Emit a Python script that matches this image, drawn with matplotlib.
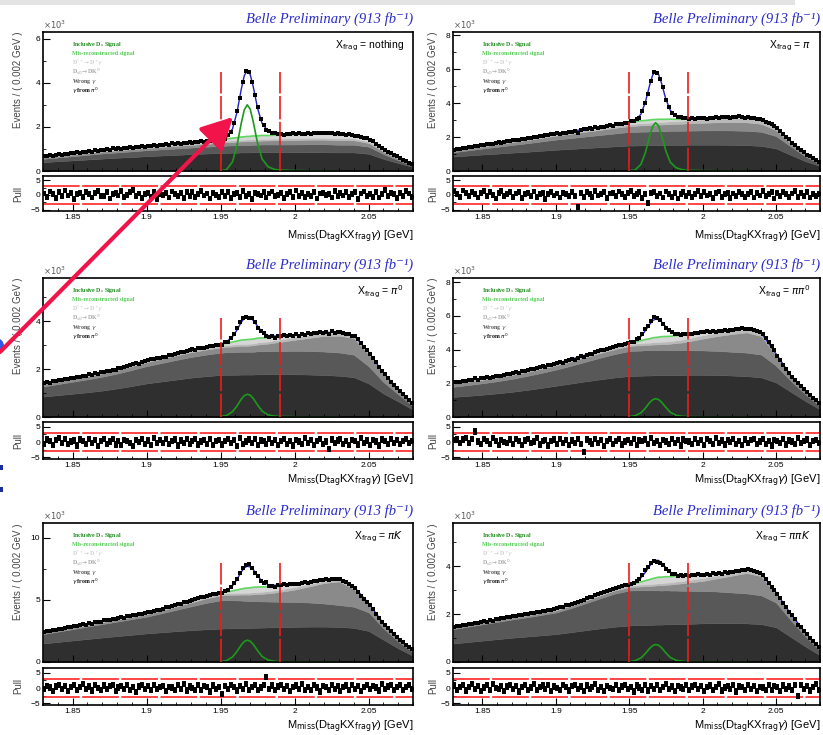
import numpy as np
import matplotlib
matplotlib.use("Agg")
import matplotlib.pyplot as plt
from matplotlib.ticker import MultipleLocator, FormatStrFormatter
from matplotlib.patches import FancyArrowPatch, Ellipse, Rectangle

plt.rcParams['font.family'] = ['Liberation Sans', 'DejaVu Sans']

W, H = 823, 735

# Sampling points of the fitted PDF components (GeV)
GRID = [1.83, 1.84, 1.85, 1.86, 1.87, 1.88, 1.89, 1.90, 1.91, 1.92, 1.93, 1.94, 1.95,
        1.954, 1.958, 1.961, 1.964, 1.966, 1.968, 1.970, 1.972, 1.975, 1.978, 1.982, 1.986,
        1.99, 2.00, 2.01, 2.02, 2.03, 2.04, 2.05, 2.06, 2.07, 2.08]
# Data histogram: 125 bins of 0.002 GeV between 1.83 and 2.08
BINS = [round(1.831 + 0.002 * i, 3) for i in range(125)]

# ---------------- X_frag = nothing (units of 10^3 events) ----------------
nothing_gpi0 = [0.40, 0.44, 0.48, 0.52, 0.56, 0.60, 0.63, 0.67, 0.70, 0.73, 0.76, 0.79, 0.81,
                0.82, 0.83, 0.83, 0.84, 0.84, 0.84, 0.84, 0.85, 0.85, 0.85, 0.85, 0.85,
                0.85, 0.85, 0.85, 0.85, 0.84, 0.84, 0.78, 0.55, 0.36, 0.18]
nothing_wrong = [0.15, 0.17, 0.19, 0.21, 0.23, 0.24, 0.26, 0.27, 0.28, 0.29, 0.30, 0.31, 0.32,
                 0.33, 0.33, 0.33, 0.34, 0.34, 0.34, 0.34, 0.34, 0.34, 0.35, 0.35, 0.35,
                 0.35, 0.35, 0.36, 0.36, 0.35, 0.35, 0.32, 0.22, 0.13, 0.06]
nothing_ds0 = [0.07, 0.07, 0.08, 0.08, 0.09, 0.09, 0.10, 0.10, 0.11, 0.12, 0.12, 0.13, 0.14,
               0.15, 0.15, 0.16, 0.16, 0.16, 0.17, 0.17, 0.17, 0.17, 0.18, 0.18, 0.19,
               0.19, 0.20, 0.21, 0.21, 0.20, 0.20, 0.17, 0.11, 0.07, 0.03]
nothing_dstar = [0.03, 0.03, 0.03, 0.04, 0.04, 0.04, 0.05, 0.05, 0.05, 0.06, 0.06, 0.07, 0.07,
                 0.07, 0.08, 0.08, 0.08, 0.08, 0.08, 0.08, 0.08, 0.08, 0.08, 0.08, 0.08,
                 0.08, 0.09, 0.09, 0.09, 0.09, 0.09, 0.07, 0.05, 0.03, 0.01]
nothing_misreco = [0.02, 0.02, 0.02, 0.02, 0.03, 0.03, 0.03, 0.03, 0.04, 0.04, 0.04, 0.05, 0.06,
                   0.08, 0.10, 0.11, 0.12, 0.13, 0.14, 0.14, 0.15, 0.15, 0.15, 0.15, 0.15,
                   0.15, 0.16, 0.17, 0.18, 0.17, 0.14, 0.11, 0.07, 0.04, 0.02]
nothing_signal = [0, 0, 0, 0, 0, 0, 0, 0, 0, 0, 0, 0, 0.01,
                  0.06, 0.41, 1.13, 2.18, 2.77, 3.00, 2.80, 2.25, 1.25, 0.55, 0.20, 0.08,
                  0.04, 0.02, 0.01, 0, 0, 0, 0, 0, 0, 0]
nothing_data = [
    0.69, 0.67, 0.72, 0.70, 0.73, 0.75, 0.73, 0.78, 0.76, 0.80, 0.80, 0.84, 0.83, 0.87, 0.85, 0.90, 0.88, 0.93, 0.91, 0.96,
    0.94, 0.99, 0.97, 1.02, 0.98, 1.03, 1.00, 1.06, 1.04, 1.08, 1.06, 1.11, 1.09, 1.13, 1.10, 1.15, 1.12, 1.17, 1.14, 1.19,
    1.18, 1.22, 1.20, 1.25, 1.21, 1.26, 1.23, 1.28, 1.25, 1.30, 1.27, 1.32, 1.30, 1.35, 1.33, 1.37, 1.35, 1.40, 1.38, 1.42,
    1.45, 1.47, 1.63, 1.78, 2.18, 2.70, 3.30, 4.05, 4.55, 4.50, 4.05, 3.45, 2.90, 2.35, 2.10, 1.88, 1.80, 1.70, 1.71, 1.66,
    1.68, 1.65, 1.69, 1.66, 1.70, 1.67, 1.71, 1.68, 1.66, 1.70, 1.69, 1.72, 1.70, 1.74, 1.71, 1.73, 1.70, 1.72, 1.68, 1.71,
    1.66, 1.69, 1.65, 1.67, 1.63, 1.60, 1.58, 1.55, 1.51, 1.48, 1.42, 1.34, 1.24, 1.14, 1.05, 0.96, 0.88, 0.80, 0.72, 0.66,
    0.60, 0.52, 0.45, 0.38, 0.32]
nothing_pull = [
    0.5, -0.8, 1.2, 0.3, -1.1, 0.9, -0.4, 1.5, -0.2, 0.6, -1.3, 0.2, 0.8, -0.6, 1.1, 0.4, -0.9, 0.7, 1.4, -0.3,
    -0.5, 1.0, -1.2, 0.3, 0.6, -0.2, 1.3, -0.7, 0.1, 0.9, 1.6, -0.4, 0.5, -1.0, 0.2, 0.8, -0.6, 1.1, -1.4, 0.4,
    -0.1, 0.7, -0.9, 1.2, 0.3, -0.5, 0.6, -1.1, 0.9, -0.3, 1.0, -0.8, 0.4, 1.3, -0.2, 0.5, -1.2, 0.8, 0.1, -0.6,
    0.9, -0.4, 1.1, -1.0, 0.3, 0.6, -0.7, 1.4, -0.5, 0.2, -1.3, 0.8, 0.4, -0.2, 1.0, -0.9, 0.5, 1.2, -0.4, 0.1,
    0.7, -1.1, 0.3, 0.9, -0.6, 1.5, -0.3, 0.6, -0.8, 0.2, -0.4, 1.1, -1.2, 0.5, 0.8, -0.1, 0.4, -0.9, 1.3, -0.5,
    0.6, -0.2, 1.0, -0.7, 0.3, 0.9, -1.4, 0.5, 1.2, -0.3, 0.2, -0.6, 1.1, -0.9, 0.4, 1.6, -0.5, 0.8, 0.2, -1.0,
    0.7, -0.3, 1.3, 0.5, -0.8]

# ---------------- X_frag = pi ----------------
pi_gpi0 = [0.85, 0.91, 0.97, 1.02, 1.08, 1.13, 1.19, 1.25, 1.30, 1.35, 1.40, 1.45, 1.50,
           1.50, 1.51, 1.51, 1.52, 1.52, 1.52, 1.53, 1.53, 1.53, 1.54, 1.54, 1.54,
           1.55, 1.55, 1.55, 1.54, 1.52, 1.48, 1.33, 0.95, 0.58, 0.30]
pi_wrong = [0.25, 0.30, 0.35, 0.40, 0.45, 0.50, 0.55, 0.60, 0.64, 0.68, 0.72, 0.76, 0.80,
            0.80, 0.81, 0.81, 0.81, 0.82, 0.82, 0.82, 0.82, 0.82, 0.83, 0.83, 0.83,
            0.83, 0.84, 0.85, 0.85, 0.85, 0.83, 0.73, 0.50, 0.28, 0.12]
pi_ds0 = [0.10, 0.11, 0.13, 0.15, 0.17, 0.19, 0.21, 0.23, 0.25, 0.28, 0.30, 0.33, 0.35,
          0.36, 0.37, 0.37, 0.38, 0.38, 0.39, 0.39, 0.39, 0.40, 0.40, 0.41, 0.42,
          0.43, 0.45, 0.47, 0.49, 0.50, 0.47, 0.35, 0.20, 0.10, 0.05]
pi_dstar = [0.05, 0.05, 0.06, 0.06, 0.07, 0.07, 0.08, 0.08, 0.09, 0.10, 0.10, 0.11, 0.12,
            0.13, 0.13, 0.14, 0.14, 0.15, 0.15, 0.15, 0.16, 0.16, 0.17, 0.17, 0.18,
            0.19, 0.20, 0.22, 0.24, 0.25, 0.22, 0.15, 0.08, 0.04, 0.02]
pi_misreco = [0.02, 0.02, 0.02, 0.03, 0.03, 0.03, 0.04, 0.04, 0.05, 0.06, 0.07, 0.08, 0.10,
              0.12, 0.14, 0.15, 0.16, 0.16, 0.16, 0.16, 0.15, 0.14, 0.12, 0.10, 0.08,
              0.07, 0.05, 0.05, 0.05, 0.05, 0.04, 0.03, 0.02, 0.01, 0.01]
pi_signal = [0, 0, 0, 0, 0, 0, 0, 0, 0, 0, 0, 0, 0.01,
             0.06, 0.39, 1.07, 2.07, 2.63, 2.85, 2.66, 2.14, 1.19, 0.52, 0.19, 0.08,
             0.04, 0.02, 0.01, 0, 0, 0, 0, 0, 0, 0]
pi_data = [
    1.26, 1.31, 1.30, 1.35, 1.37, 1.42, 1.40, 1.47, 1.46, 1.52, 1.55, 1.57, 1.60, 1.58, 1.65, 1.69, 1.67, 1.74, 1.76, 1.78,
    1.80, 1.85, 1.84, 1.90, 1.89, 1.95, 1.93, 2.00, 2.02, 2.05, 2.06, 2.12, 2.10, 2.16, 2.18, 2.22, 2.20, 2.27, 2.25, 2.32,
    2.33, 2.38, 2.22, 2.43, 2.46, 2.48, 2.52, 2.50, 2.57, 2.56, 2.62, 2.60, 2.67, 2.70, 2.68, 2.75, 2.79, 2.77, 2.84, 2.86,
    2.93, 2.94, 3.06, 3.15, 3.55, 4.00, 4.55, 5.30, 5.85, 5.80, 5.40, 4.95, 4.18, 3.76, 3.40, 3.30, 3.17, 3.16, 3.10, 3.12,
    3.08, 3.12, 3.06, 3.13, 3.10, 3.14, 3.09, 3.15, 3.12, 3.17, 3.13, 3.19, 3.16, 3.21, 3.15, 3.20, 3.16, 3.22, 3.18, 3.15,
    3.19, 3.12, 3.10, 3.08, 3.04, 3.00, 2.92, 2.85, 2.76, 2.66, 2.52, 2.36, 2.18, 2.02, 1.86, 1.68, 1.52, 1.38, 1.24, 1.10,
    0.96, 0.86, 0.74, 0.64, 0.55]
pi_pull = [
    1.2, 0.4, -0.6, 1.5, 0.8, -0.3, 1.1, 0.2, -0.9, 0.6, 1.3, -0.5, 0.9, 0.1, -1.2, 0.7, 1.4, -0.4, 0.3, 0.9,
    -0.7, 0.5, 1.0, -1.1, 0.2, 0.8, -0.4, 1.2, -0.8, 0.3, 0.6, -1.3, 0.4, 1.1, -0.2, 0.5, -0.9, 0.7, 0.2, -0.5,
    0.9, -0.3, -4.0, 0.6, -0.8, 1.0, 0.3, -0.6, 1.3, -0.2, 0.4, 1.1, -1.0, 0.5, 0.8, -0.4, 1.2, 0.2, -0.7, 0.6,
    1.4, -0.5, 0.3, 0.9, -1.1, 0.2, -2.8, 0.7, 1.0, -0.3, 0.5, -0.9, 1.2, 0.4, -0.6, 0.8, -1.2, 0.3, 1.1, -0.4,
    0.6, -0.8, 0.2, 1.3, -0.5, 0.9, -0.2, 0.4, -1.0, 0.7, 1.2, -0.6, 0.3, 0.8, -1.1, 0.5, -0.3, 1.0, 0.2, -0.7,
    0.4, 1.1, -0.9, 0.6, -0.2, 1.4, -0.5, 0.3, 0.9, -1.2, 0.7, -0.4, 1.0, 0.2, -0.8, 0.5, 1.3, -0.6, 0.8, -0.3,
    1.0, -0.9, 0.4, -0.5, 0.2]

# ---------------- X_frag = pi0 ----------------
pi0_gpi0 = [0.85, 0.91, 0.97, 1.03, 1.10, 1.19, 1.29, 1.40, 1.48, 1.56, 1.64, 1.70, 1.75,
            1.76, 1.76, 1.76, 1.77, 1.77, 1.77, 1.77, 1.77, 1.78, 1.78, 1.78, 1.78,
            1.78, 1.78, 1.77, 1.75, 1.72, 1.66, 1.40, 0.98, 0.65, 0.30]
pi0_wrong = [0.42, 0.46, 0.50, 0.54, 0.58, 0.62, 0.67, 0.72, 0.77, 0.82, 0.86, 0.90, 0.93,
             0.94, 0.94, 0.95, 0.95, 0.95, 0.95, 0.95, 0.95, 0.96, 0.96, 0.96, 0.97,
             0.97, 0.98, 0.98, 0.98, 0.97, 0.94, 0.72, 0.48, 0.30, 0.15]
pi0_ds0 = [0.10, 0.11, 0.12, 0.13, 0.14, 0.15, 0.16, 0.17, 0.18, 0.19, 0.20, 0.21, 0.22,
           0.23, 0.24, 0.24, 0.25, 0.25, 0.25, 0.26, 0.27, 0.28, 0.30, 0.32, 0.35,
           0.38, 0.46, 0.55, 0.65, 0.70, 0.70, 0.50, 0.32, 0.18, 0.08]
pi0_dstar = [0.04, 0.04, 0.04, 0.05, 0.05, 0.05, 0.05, 0.06, 0.06, 0.06, 0.07, 0.07, 0.07,
             0.07, 0.08, 0.08, 0.08, 0.08, 0.08, 0.08, 0.08, 0.09, 0.09, 0.09, 0.10,
             0.10, 0.11, 0.12, 0.12, 0.12, 0.10, 0.08, 0.05, 0.03, 0.02]
pi0_misreco = [0, 0, 0, 0, 0, 0.01, 0.01, 0.01, 0.01, 0.02, 0.02, 0.03, 0.05,
               0.08, 0.11, 0.14, 0.16, 0.17, 0.18, 0.18, 0.18, 0.18, 0.17, 0.16, 0.14,
               0.12, 0.08, 0.05, 0.03, 0.02, 0.01, 0.01, 0, 0, 0]
pi0_signal = [0, 0, 0, 0, 0, 0, 0, 0, 0, 0, 0, 0, 0.02,
              0.06, 0.22, 0.45, 0.75, 0.89, 0.95, 0.91, 0.78, 0.50, 0.25, 0.09, 0.04,
              0.02, 0.01, 0, 0, 0, 0, 0, 0, 0, 0]
pi0_data = [
    1.40, 1.44, 1.43, 1.49, 1.50, 1.55, 1.53, 1.58, 1.57, 1.63, 1.62, 1.68, 1.66, 1.72, 1.71, 1.78, 1.76, 1.82, 1.80, 1.86,
    1.89, 1.92, 1.90, 1.98, 1.97, 2.05, 2.03, 2.10, 2.12, 2.15, 2.20, 2.24, 2.22, 2.30, 2.33, 2.37, 2.41, 2.40, 2.45, 2.47,
    2.52, 2.50, 2.58, 2.60, 2.62, 2.66, 2.71, 2.70, 2.74, 2.78, 2.82, 2.79, 2.86, 2.88, 2.87, 2.93, 2.97, 2.95, 3.01, 3.00,
    3.02, 3.12, 3.14, 3.30, 3.47, 3.70, 3.95, 4.15, 4.18, 4.12, 4.14, 3.95, 3.72, 3.58, 3.50, 3.40, 3.33, 3.36, 3.31, 3.37,
    3.36, 3.41, 3.38, 3.44, 3.40, 3.45, 3.40, 3.47, 3.44, 3.50, 3.46, 3.52, 3.49, 3.55, 3.51, 3.56, 3.45, 3.58, 3.50, 3.55,
    3.54, 3.49, 3.47, 3.45, 3.40, 3.36, 3.24, 3.08, 2.93, 2.79, 2.64, 2.45, 2.28, 2.08, 1.92, 1.78, 1.62, 1.48, 1.35, 1.22,
    1.10, 0.98, 0.85, 0.72, 0.60]
pi0_pull = [
    -0.5, 0.8, 0.3, -1.0, 0.6, 1.2, -0.4, 0.9, -0.7, 0.2, 0.5, -1.1, 0.8, 0.3, -0.6, 1.0, -0.2, 0.7, -1.3, 0.4,
    0.9, -0.5, 0.2, 1.1, -0.8, 0.4, -1.0, 0.6, 0.3, -0.4, -1.2, 0.7, 0.1, 0.9, -0.6, 0.5, -0.9, 1.2, -0.3, 0.6,
    -0.4, 1.0, -0.7, 0.3, 0.8, -1.1, 0.5, -0.2, 0.9, -0.6, 0.4, 1.1, -0.8, 0.2, 0.6, -0.5, 0.9, -1.0, 0.3, 0.7,
    -0.8, 0.4, 1.0, -0.3, 0.6, -1.2, 1.3, -0.5, 0.2, 0.8, -0.4, 1.1, -0.9, 0.5, 0.3, -0.7, 1.0, -0.2, 0.6, -1.0,
    0.3, 0.9, -0.6, 0.4, -1.1, 0.7, 0.2, -0.5, 1.2, -0.3, 0.6, -0.9, 0.4, 1.0, -0.7, 0.2, -2.2, 0.8, -0.4, 0.5,
    1.1, -0.6, 0.3, -1.0, 0.7, 0.4, -0.8, 1.2, -0.3, 0.5, -0.9, 0.6, 0.2, -1.1, 0.8, 0.3, -0.5, 1.0, -0.2, 0.6,
    -0.7, 0.4, 0.9, -0.4, 0.3]

# ---------------- X_frag = pi pi0 ----------------
pipi0_gpi0 = [1.19, 1.25, 1.32, 1.40, 1.49, 1.60, 1.72, 1.85, 1.98, 2.11, 2.23, 2.34, 2.43,
              2.44, 2.45, 2.46, 2.46, 2.47, 2.47, 2.47, 2.48, 2.48, 2.48, 2.49, 2.49,
              2.50, 2.50, 2.49, 2.46, 2.42, 2.35, 2.05, 1.50, 0.95, 0.45]
pipi0_wrong = [0.60, 0.64, 0.68, 0.72, 0.77, 0.83, 0.89, 0.96, 1.05, 1.16, 1.28, 1.39, 1.48,
               1.49, 1.49, 1.50, 1.50, 1.50, 1.50, 1.50, 1.50, 1.49, 1.49, 1.48, 1.47,
               1.46, 1.45, 1.43, 1.41, 1.40, 1.35, 1.00, 0.65, 0.40, 0.20]
pipi0_ds0 = [0.19, 0.20, 0.21, 0.22, 0.23, 0.24, 0.25, 0.25, 0.26, 0.27, 0.28, 0.29, 0.30,
             0.31, 0.31, 0.32, 0.32, 0.33, 0.33, 0.34, 0.35, 0.36, 0.38, 0.42, 0.46,
             0.52, 0.70, 0.88, 1.05, 1.20, 1.10, 0.60, 0.25, 0.15, 0.10]
pipi0_dstar = [0.08, 0.08, 0.08, 0.09, 0.09, 0.09, 0.10, 0.10, 0.10, 0.11, 0.11, 0.12, 0.12,
               0.12, 0.13, 0.13, 0.13, 0.14, 0.14, 0.14, 0.14, 0.15, 0.15, 0.16, 0.17,
               0.18, 0.20, 0.20, 0.20, 0.20, 0.18, 0.10, 0.07, 0.05, 0.03]
pipi0_misreco = [0, 0, 0, 0, 0.01, 0.01, 0.01, 0.01, 0.02, 0.02, 0.03, 0.04, 0.06,
                 0.10, 0.15, 0.19, 0.23, 0.26, 0.28, 0.29, 0.30, 0.30, 0.29, 0.28, 0.27,
                 0.25, 0.18, 0.10, 0.05, 0.02, 0.01, 0, 0, 0, 0]
pipi0_signal = [0, 0, 0, 0, 0, 0, 0, 0, 0, 0, 0, 0, 0.02,
                0.07, 0.25, 0.52, 0.86, 1.02, 1.09, 1.04, 0.89, 0.57, 0.28, 0.10, 0.04,
                0.02, 0.01, 0, 0, 0, 0, 0, 0, 0, 0]
pipi0_data = [
    2.05, 2.10, 2.08, 2.15, 2.14, 2.20, 2.17, 2.30, 2.22, 2.30, 2.31, 2.35, 2.33, 2.40, 2.42, 2.46, 2.44, 2.52, 2.55, 2.56,
    2.62, 2.66, 2.64, 2.72, 2.75, 2.79, 2.84, 2.82, 2.91, 2.94, 3.00, 2.98, 3.08, 3.10, 3.14, 3.20, 3.25, 3.23, 3.33, 3.38,
    3.44, 3.40, 3.52, 3.60, 3.55, 3.70, 3.76, 3.74, 3.85, 3.90, 3.96, 3.99, 4.05, 4.10, 4.13, 4.20, 4.27, 4.25, 4.35, 4.38,
    4.43, 4.46, 4.62, 4.70, 4.95, 5.20, 5.38, 5.70, 5.92, 5.85, 5.75, 5.50, 5.30, 5.18, 5.05, 4.95, 4.90, 4.88, 4.92, 4.90,
    4.95, 4.92, 5.00, 4.98, 5.05, 5.02, 5.08, 5.05, 5.11, 5.07, 5.12, 5.09, 5.15, 5.13, 5.19, 5.16, 5.22, 5.20, 5.27, 5.23,
    5.25, 5.20, 5.15, 5.08, 5.02, 4.92, 4.70, 4.45, 4.20, 3.95, 3.65, 3.38, 3.10, 2.85, 2.60, 2.40, 2.20, 2.00, 1.82, 1.65,
    1.48, 1.32, 1.15, 0.99, 0.85]
pipi0_pull = [
    0.6, 1.1, -0.4, 0.8, 1.3, -0.2, 0.9, 3.4, 0.2, -0.7, 1.0, 0.4, -0.5, 1.2, 0.3, -0.9, 0.7, 0.1, -0.3, 0.8,
    -0.6, 1.1, 0.3, -1.0, 0.5, 0.9, -0.4, 0.2, 1.2, -0.8, 0.4, 0.7, -1.1, 0.3, 0.8, -0.5, 1.0, -0.2, 0.6, -0.9,
    0.5, -0.3, 1.1, -0.7, -3.3, 0.8, 0.2, -0.6, 1.0, -0.4, 0.7, -1.2, 0.3, 0.9, -0.5, 0.4, 1.1, -0.8, 0.2, 0.6,
    -0.4, 0.9, -1.0, 0.5, 0.3, 0.8, -0.6, 1.2, -0.2, 0.4, -0.9, 0.7, 0.2, -0.5, 1.0, -0.3, 0.6, -1.1, 0.8, 0.4,
    0.2, -0.7, 1.1, -0.4, 0.6, -1.0, 0.9, 0.3, -0.5, 1.2, -0.2, 0.5, -0.8, 0.7, 0.1, 1.0, -0.6, 0.4, -0.9, 0.8,
    -0.3, 0.6, 1.1, -0.7, 0.2, 0.9, -0.5, 0.4, -1.1, 0.7, 0.3, -0.4, 1.0, -0.8, 0.5, 0.2, -0.6, 1.2, -0.2, 0.4,
    0.8, -0.9, 0.3, 0.6, -0.4]

# ---------------- X_frag = pi K ----------------
pik_gpi0 = [1.49, 1.61, 1.73, 1.85, 1.97, 2.08, 2.19, 2.30, 2.39, 2.48, 2.56, 2.63, 2.69,
            2.70, 2.71, 2.72, 2.73, 2.73, 2.74, 2.74, 2.75, 2.76, 2.77, 2.78, 2.79,
            2.80, 2.83, 2.85, 2.85, 2.82, 2.75, 2.50, 1.80, 1.10, 0.50]
pik_wrong = [0.75, 0.83, 0.91, 1.00, 1.08, 1.17, 1.26, 1.35, 1.53, 1.72, 1.92, 2.12, 2.28,
             2.28, 2.26, 2.24, 2.22, 2.20, 2.18, 2.16, 2.15, 2.13, 2.11, 2.09, 2.07,
             2.05, 2.00, 1.94, 1.86, 1.77, 1.70, 1.50, 0.92, 0.55, 0.30]
pik_ds0 = [0.11, 0.12, 0.13, 0.14, 0.15, 0.16, 0.18, 0.20, 0.23, 0.27, 0.31, 0.36, 0.40,
           0.42, 0.44, 0.46, 0.48, 0.50, 0.51, 0.53, 0.55, 0.58, 0.61, 0.66, 0.72,
           0.80, 1.00, 1.30, 1.65, 1.90, 1.45, 0.60, 0.30, 0.17, 0.10]
pik_dstar = [0.08, 0.08, 0.09, 0.09, 0.09, 0.10, 0.10, 0.10, 0.11, 0.12, 0.13, 0.13, 0.14,
             0.14, 0.15, 0.15, 0.15, 0.16, 0.16, 0.16, 0.17, 0.17, 0.17, 0.18, 0.19,
             0.20, 0.20, 0.20, 0.19, 0.17, 0.15, 0.12, 0.08, 0.05, 0.03]
pik_misreco = [0, 0, 0, 0, 0.01, 0.01, 0.01, 0.02, 0.02, 0.03, 0.04, 0.05, 0.06,
               0.10, 0.17, 0.24, 0.30, 0.34, 0.37, 0.39, 0.40, 0.40, 0.39, 0.37, 0.35,
               0.33, 0.25, 0.15, 0.08, 0.04, 0.02, 0.01, 0, 0, 0]
pik_signal = [0, 0, 0, 0, 0, 0, 0, 0, 0, 0, 0, 0, 0.03,
              0.11, 0.40, 0.84, 1.38, 1.65, 1.76, 1.68, 1.43, 0.92, 0.45, 0.16, 0.06,
              0.03, 0.01, 0, 0, 0, 0, 0, 0, 0, 0]
pik_data = [
    2.45, 2.48, 2.52, 2.58, 2.60, 2.68, 2.66, 2.75, 2.80, 2.82, 2.90, 2.93, 2.96, 3.04, 3.02, 3.12, 3.10, 3.20, 3.25, 3.26,
    3.35, 3.38, 3.40, 3.48, 3.50, 3.55, 3.60, 3.58, 3.68, 3.72, 3.76, 3.82, 3.85, 3.88, 3.95, 4.00, 4.05, 4.12, 4.18, 4.22,
    4.30, 4.40, 4.42, 4.52, 4.58, 4.66, 4.70, 4.80, 4.85, 4.92, 5.00, 5.05, 5.12, 5.20, 5.22, 5.33, 5.36, 5.45, 5.50, 5.55,
    5.52, 5.70, 5.78, 6.05, 6.35, 6.70, 7.15, 7.55, 7.85, 7.90, 7.60, 7.15, 6.90, 6.52, 6.38, 6.45, 6.10, 6.15, 6.08, 6.20,
    6.20, 6.26, 6.22, 6.30, 6.27, 6.32, 6.30, 6.38, 6.42, 6.40, 6.46, 6.52, 6.50, 6.60, 6.58, 6.65, 6.62, 6.70, 6.66, 6.72,
    6.68, 6.55, 6.45, 6.30, 6.15, 5.95, 5.65, 5.35, 5.10, 4.85, 4.60, 4.25, 3.90, 3.55, 3.25, 3.00, 2.75, 2.48, 2.22, 1.98,
    1.80, 1.60, 1.40, 1.20, 1.02]
pik_pull = [
    -0.4, 0.7, 0.2, -0.9, 0.5, 1.1, -0.3, 0.6, -1.0, 0.4, 0.9, -0.6, 0.3, 1.2, -0.2, 0.5, -0.8, 1.0, 0.1, -0.5,
    0.8, -0.3, 0.6, 1.1, -0.9, 0.2, 0.7, -0.4, 1.0, -0.6, 0.3, -1.2, 0.5, 0.9, -0.2, 0.6, -0.7, 1.1, -0.4, 0.3,
    0.7, -1.0, 0.4, 0.2, -0.6, 0.9, -0.3, 1.2, -0.8, 0.5, 0.1, -0.5, 1.0, -0.7, 0.6, 0.3, -1.1, 0.8, -0.2, 0.4,
    -1.9, 0.6, -0.4, 1.0, 0.3, -0.8, 0.7, -0.2, 1.2, -0.5, 0.4, 0.9, -0.6, 0.2, 1.1, 3.6, -0.3, 0.8, -0.7, 0.5,
    1.0, -0.4, 0.6, -1.0, 0.3, 0.8, -0.2, 1.2, -0.7, 0.4, -0.5, 0.9, 0.2, -1.1, 0.6, 0.3, -0.6, 1.0, -0.3, 0.7,
    -0.9, 0.4, 0.8, -0.5, 1.1, -0.2, 0.6, -1.0, 0.3, 0.9, -0.4, 0.7, 0.2, -0.8, 1.2, -0.3, 0.5, 1.0, -0.6, 0.4,
    0.9, -0.7, 0.3, 1.1, -0.4]

# ---------------- X_frag = pi pi K ----------------
pipik_gpi0 = [0.77, 0.83, 0.89, 0.95, 1.01, 1.06, 1.11, 1.16, 1.24, 1.32, 1.40, 1.47, 1.52,
              1.53, 1.54, 1.54, 1.55, 1.55, 1.56, 1.56, 1.56, 1.57, 1.57, 1.58, 1.58,
              1.59, 1.61, 1.62, 1.62, 1.61, 1.58, 1.45, 1.05, 0.65, 0.28]
pipik_wrong = [0.60, 0.64, 0.68, 0.72, 0.76, 0.80, 0.85, 0.90, 1.00, 1.12, 1.25, 1.38, 1.46,
               1.46, 1.45, 1.45, 1.44, 1.44, 1.43, 1.43, 1.42, 1.42, 1.41, 1.40, 1.39,
               1.38, 1.35, 1.32, 1.28, 1.25, 1.20, 1.03, 0.70, 0.42, 0.20]
pipik_ds0 = [0.06, 0.06, 0.07, 0.07, 0.08, 0.08, 0.09, 0.09, 0.10, 0.11, 0.12, 0.13, 0.14,
             0.15, 0.16, 0.17, 0.18, 0.19, 0.20, 0.21, 0.22, 0.23, 0.25, 0.28, 0.31,
             0.34, 0.42, 0.55, 0.70, 0.85, 0.80, 0.35, 0.20, 0.12, 0.06]
pipik_dstar = [0.04, 0.04, 0.04, 0.04, 0.05, 0.05, 0.05, 0.05, 0.06, 0.06, 0.06, 0.07, 0.07,
               0.07, 0.08, 0.08, 0.08, 0.08, 0.08, 0.09, 0.09, 0.09, 0.09, 0.10, 0.10,
               0.11, 0.12, 0.12, 0.11, 0.11, 0.10, 0.08, 0.06, 0.04, 0.02]
pipik_misreco = [0, 0, 0, 0, 0, 0.01, 0.01, 0.01, 0.01, 0.02, 0.02, 0.03, 0.04,
                 0.07, 0.11, 0.15, 0.19, 0.22, 0.24, 0.25, 0.25, 0.25, 0.24, 0.23, 0.21,
                 0.19, 0.13, 0.08, 0.04, 0.02, 0.01, 0, 0, 0, 0]
pipik_signal = [0, 0, 0, 0, 0, 0, 0, 0, 0, 0, 0, 0, 0.01,
                0.05, 0.17, 0.35, 0.57, 0.68, 0.73, 0.70, 0.60, 0.38, 0.19, 0.07, 0.03,
                0.01, 0.01, 0, 0, 0, 0, 0, 0, 0, 0]
pipik_data = [
    1.46, 1.51, 1.49, 1.55, 1.56, 1.59, 1.57, 1.63, 1.62, 1.67, 1.70, 1.68, 1.74, 1.73, 1.79, 1.80, 1.83, 1.82, 1.88, 1.87,
    1.92, 1.90, 1.96, 1.95, 2.01, 2.02, 2.05, 2.03, 2.09, 2.08, 2.13, 2.12, 2.17, 2.16, 2.22, 2.24, 2.28, 2.30, 2.36, 2.38,
    2.44, 2.47, 2.52, 2.55, 2.60, 2.66, 2.70, 2.72, 2.80, 2.82, 2.88, 2.93, 2.95, 3.02, 3.05, 3.10, 3.12, 3.17, 3.20, 3.23,
    3.27, 3.28, 3.40, 3.45, 3.65, 3.82, 3.95, 4.15, 4.20, 4.18, 4.12, 4.06, 3.88, 3.80, 3.68, 3.66, 3.58, 3.63, 3.60, 3.64,
    3.60, 3.65, 3.61, 3.66, 3.62, 3.64, 3.68, 3.65, 3.70, 3.67, 3.71, 3.69, 3.74, 3.72, 3.77, 3.76, 3.80, 3.79, 3.85, 3.83,
    3.86, 3.82, 3.78, 3.75, 3.70, 3.62, 3.48, 3.30, 3.15, 3.00, 2.85, 2.65, 2.45, 2.28, 2.10, 1.95, 1.80, 1.55, 1.45, 1.30,
    1.18, 1.02, 0.88, 0.74, 0.62]
pipik_pull = [
    0.8, -0.5, 0.3, 1.1, -0.8, 0.4, 1.3, -0.2, 0.6, -1.0, 0.2, 0.9, -0.6, 1.2, 0.1, -0.4, 0.7, -0.9, 0.5, 1.0,
    -0.3, 0.6, -1.1, 0.4, 0.9, -0.5, 0.2, 1.2, -0.7, 0.3, 0.8, -0.4, 1.0, -0.9, 0.5, 0.1, -0.6, 1.1, 0.3, -0.8,
    0.6, 1.0, -0.3, 0.5, -1.0, 0.8, -0.2, 0.4, 1.2, -0.6, 0.3, -0.9, 0.7, 0.1, -0.4, 1.1, -0.7, 0.5, 0.9, -0.3,
    0.4, -1.1, 0.8, 0.2, -0.5, 1.0, -0.8, 0.6, -0.2, 0.9, -0.6, 0.3, 1.2, -0.4, 0.5, -0.9, 0.7, 0.2, -0.3, 1.0,
    -0.7, 0.5, 1.1, -0.2, 0.6, -1.0, 0.3, 0.8, -0.5, 0.4, 1.2, -0.8, 0.2, 0.6, -0.4, 0.9, -1.1, 0.5, 0.3, -0.6,
    1.0, -0.3, 0.7, -0.9, 0.4, 0.2, -0.5, 1.1, -0.7, 0.6, 0.3, -1.0, 0.8, -0.2, 0.5, -0.6, 0.9, -2.6, 1.0, -0.4,
    0.6, -0.8, 0.3, 1.2, -0.5]

FRAG_LABELS = [r"X$_{\rm frag}$ = nothing", r"X$_{\rm frag}$ = $\pi$", r"X$_{\rm frag}$ = $\pi^{0}$",
               r"X$_{\rm frag}$ = $\pi\pi^{0}$", r"X$_{\rm frag}$ = $\pi K$", r"X$_{\rm frag}$ = $\pi\pi K$"]
Y_MAX = [6.3, 8.2, 5.8, 8.25, 11.2, 5.8]
Y_MAJOR = [2, 2, 2, 2, 5, 2]
Y_MINOR = [1, 1, 1, 1, 2.5, 1]

LEGEND_TEXT = [r"Inclusive D$_s$ Signal", "Mis-reconstructed signal",
               r"D$^{*+}\!\rightarrow$D$^{+}\gamma$", r"D$_{s0}\!\rightarrow$DK$^{0}$",
               r"Wrong $\gamma$", r"$\gamma$ from $\pi^{0}$"]
LEGEND_COLORS = ['#1b8f1b', '#55cc55', '#cfcfcf', '#a6a6a6', '#555555', '#111111']
STACK_COLORS = ['#2f2f2f', '#585858', '#8a8a8a', '#b9b9b9']
MISRECO_FILL = '#d6d6d6'

panels = [
    (nothing_gpi0, nothing_wrong, nothing_ds0, nothing_dstar, nothing_misreco, nothing_signal, nothing_data, nothing_pull),
    (pi_gpi0, pi_wrong, pi_ds0, pi_dstar, pi_misreco, pi_signal, pi_data, pi_pull),
    (pi0_gpi0, pi0_wrong, pi0_ds0, pi0_dstar, pi0_misreco, pi0_signal, pi0_data, pi0_pull),
    (pipi0_gpi0, pipi0_wrong, pipi0_ds0, pipi0_dstar, pipi0_misreco, pipi0_signal, pipi0_data, pipi0_pull),
    (pik_gpi0, pik_wrong, pik_ds0, pik_dstar, pik_misreco, pik_signal, pik_data, pik_pull),
    (pipik_gpi0, pipik_wrong, pipik_ds0, pipik_dstar, pipik_misreco, pipik_signal, pipik_data, pipik_pull),
]

# page layout in pixels
COLS = [(43, 413), (453, 820)]
ROWS = [(32, 171, 176, 211), (278, 417, 422, 459), (523, 662, 668, 705)]
TITLE_Y = [19, 265, 511]
XLABEL_Y = [237, 481, 727]
YLABEL_X = [18, 433]

fig = plt.figure(figsize=(W / 100, H / 100), dpi=100)


def px_axes(x0, y0, x1, y1):
    return fig.add_axes([x0 / W, 1 - y1 / H, (x1 - x0) / W, (y1 - y0) / H])


def style_axes(a):
    a.set_xlim(1.83, 2.08)
    a.xaxis.set_major_locator(MultipleLocator(0.05))
    a.xaxis.set_minor_locator(MultipleLocator(0.01))
    a.xaxis.set_major_formatter(FormatStrFormatter('%g'))
    a.tick_params(which='both', direction='in', top=False, right=False, labelsize=6, pad=2)
    a.tick_params(which='major', length=5, width=0.8)
    a.tick_params(which='minor', length=2.5, width=0.6)
    for s in a.spines.values():
        s.set_linewidth(1.2)


g = np.array(GRID)
bins = np.array(BINS)

for k, comp in enumerate(panels):
    gpi0, wrong, ds0, dstar, misreco, signal, data, pull = [np.array(c, dtype=float) for c in comp]
    col, row = k % 2, k // 2
    x0, x1 = COLS[col]
    mt, mb, pt, pb = ROWS[row]
    ax = px_axes(x0, mt, x1, mb)
    axp = px_axes(x0, pt, x1, pb)
    style_axes(ax)
    style_axes(axp)

    # stacked background components
    lower = np.zeros_like(g)
    for layer, colr in zip((gpi0, wrong, ds0, dstar), STACK_COLORS):
        ax.fill_between(g, lower, lower + layer, color=colr, lw=0.3, ec=colr, zorder=1)
        lower = lower + layer
    ax.fill_between(g, lower, lower + misreco, color=MISRECO_FILL, lw=0.3, ec=MISRECO_FILL, zorder=1)

    sel_mis = (g >= 1.9495) & (g <= 2.0005)
    ax.plot(g[sel_mis], (lower + misreco)[sel_mis], color='#5fd65f', lw=1.2, zorder=2)
    sel_sig = (g >= 1.9495) & (g <= 2.0305)
    ax.plot(g[sel_sig], signal[sel_sig], color='#1c9a1c', lw=1.2, zorder=2)

    total = lower + misreco + signal
    ax.plot(g, total, color='#2020c0', lw=1.0, zorder=3)
    ax.plot(bins, data, 's', color='black', ms=2.7, mew=0, zorder=4)

    for xv in (1.95, 1.99):
        ax.axvline(xv, 0, 0.715, color='#ee1c1c', lw=1.2, dashes=(14, 1.5), zorder=5)

    ax.set_ylim(0, Y_MAX[k])
    ax.yaxis.set_major_locator(MultipleLocator(Y_MAJOR[k]))
    ax.yaxis.set_minor_locator(MultipleLocator(Y_MINOR[k]))
    ax.yaxis.set_major_formatter(FormatStrFormatter('%g'))
    ax.tick_params(labelbottom=False)

    ax.text(0.975, 0.90, FRAG_LABELS[k], transform=ax.transAxes, ha='right', va='center', fontsize=7.5)
    for i, (txt, c) in enumerate(zip(LEGEND_TEXT, LEGEND_COLORS)):
        ax.text(0.078, 0.91 - i * 0.066, txt, transform=ax.transAxes, fontsize=4.2, color=c,
                fontweight='bold', family=['Liberation Serif', 'DejaVu Serif'], va='center', ha='left')

    # pull panel
    axp.errorbar(bins, pull, yerr=1.0, xerr=0.001, fmt='s', ms=3.0, mew=0, color='black',
                 elinewidth=2.8, capsize=0, zorder=3)
    for yv in (3, -3):
        axp.axhline(yv, color='#ff2424', lw=1.2, dashes=(22, 1.5), zorder=2)
    axp.set_ylim(-5.5, 6.5)
    axp.set_yticks([-5, 0, 5])
    axp.yaxis.set_minor_locator(MultipleLocator(2.5))

    # texts around the panel
    fig.text(x0 / W, 1 - (mt - 1) / H, r"$\times10^{3}$", fontsize=6, color='#555555', ha='left', va='bottom')
    fig.text(YLABEL_X[col] / W, 1 - mt / H, "Events / ( 0.002 GeV )", rotation=90, ha='center', va='top',
             fontsize=7, color='#444444')
    fig.text(YLABEL_X[col] / W, 1 - (pt + pb) / 2 / H, "Pull", rotation=90, ha='center', va='center',
             fontsize=7, color='#444444')
    fig.text(x1 / W, 1 - TITLE_Y[row] / H, "Belle Preliminary (913 fb\u207b\u00b9)", ha='right', va='center',
             fontsize=10.5, style='italic', color='#2a2acc', family=['Liberation Serif', 'DejaVu Serif'])
    fig.text(x1 / W, 1 - XLABEL_Y[row] / H, r"M$_{\rm miss}$(D$_{\rm tag}$KX$_{\rm frag}\gamma$) [GeV]",
             ha='right', va='center', fontsize=8)

# slide decorations: top strip, marker, pointer arrow
fig.add_artist(Rectangle((0, 1 - 5 / H), 795 / W, 5 / H, transform=fig.transFigure, color='#e3e3e3', lw=0))
fig.add_artist(Ellipse((-4 / W, 1 - 346 / H), 16 / W, 16 / H, transform=fig.transFigure, color='#3358e6', lw=0))
for yy in (465, 487):
    fig.add_artist(Rectangle((0, 1 - (yy + 5) / H), 3 / W, 5 / H, transform=fig.transFigure, color='#1a2d9a', lw=0))
arrow = FancyArrowPatch(posA=(0, 1 - 352 / H), posB=(233 / W, 1 - 117 / H), transform=fig.transFigure,
                        arrowstyle='-|>,head_length=0.95,head_width=0.5', mutation_scale=20,
                        color='#f0144a', lw=3, shrinkA=0, shrinkB=0, zorder=10)
fig.add_artist(arrow)

fig.savefig("out.png", dpi=100)
